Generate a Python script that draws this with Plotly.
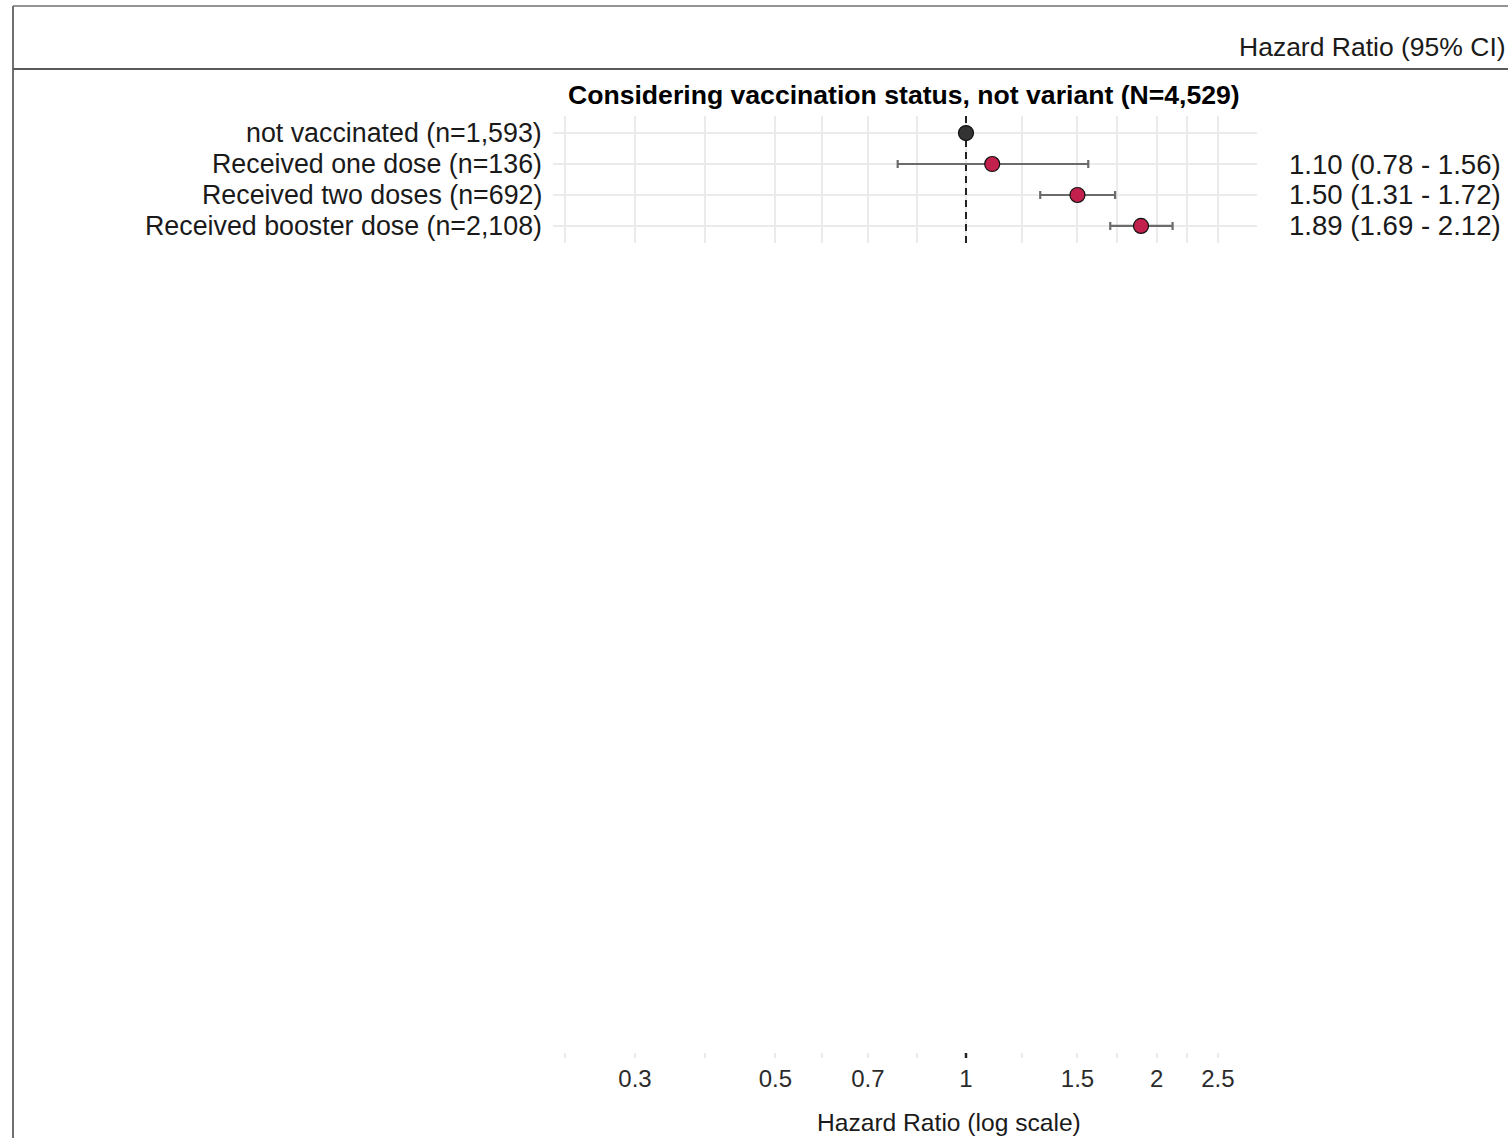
import math
import plotly.graph_objects as go

# Forest plot: hazard ratios by vaccination status
groups = [
    "not vaccinated (n=1,593)",
    "Received one dose (n=136)",
    "Received two doses (n=692)",
    "Received booster dose (n=2,108)",
]
hr = [1.00, 1.10, 1.50, 1.89]
ci_low = [None, 0.78, 1.31, 1.69]
ci_high = [None, 1.56, 1.72, 2.12]
hr_text = ["", "1.10 (0.78 - 1.56)", "1.50 (1.31 - 1.72)", "1.89 (1.69 - 2.12)"]

tick_vals = [0.3, 0.5, 0.7, 1, 1.5, 2, 2.5]
tick_text = ["0.3", "0.5", "0.7", "1", "1.5", "2", "2.5"]

title_text = "Considering vaccination status, not variant (N=4,529)"
header_text = "Hazard Ratio (95% CI)"
xlabel_text = "Hazard Ratio (log scale)"

W, H = 1508, 1138
FONT = "Liberation Sans, Arial, sans-serif"
TXT = "#1a1a1a"
GRID = "#ebebeb"
REF_COLOR = "#333333"
EST_COLOR = "#c2214e"

# minor gridlines halfway between major breaks (in log space), plus one below
logs = [math.log10(v) for v in tick_vals]
minor_logs = [logs[0] - (logs[1] - logs[0]) / 2]
minor_logs += [(a + b) / 2 for a, b in zip(logs[:-1], logs[1:])]
minor_vals = [10 ** m for m in minor_logs]

x_range = [-0.6524, 0.4597]
rows = list(range(1, len(groups) + 1))


def px_x(p):
    return p / W


def px_y(p):
    return 1 - p / H


fig = go.Figure()

# reference line at HR = 1
fig.add_trace(go.Scatter(
    x=[1, 1], y=[0.45, 4.55], mode="lines",
    line=dict(color="#222222", width=2, dash="7px,5px"),
    xaxis="x", yaxis="y", showlegend=False, hoverinfo="skip",
))

# reference group point
fig.add_trace(go.Scatter(
    x=[hr[0]], y=[rows[0]], mode="markers",
    marker=dict(size=15, color=REF_COLOR, line=dict(color="#111111", width=1.2)),
    xaxis="x", yaxis="y", showlegend=False,
))

# estimates with 95% CI
est_x = hr[1:]
est_y = rows[1:]
err_plus = [h - e for h, e in zip(ci_high[1:], est_x)]
err_minus = [e - l for e, l in zip(est_x, ci_low[1:])]
fig.add_trace(go.Scatter(
    x=est_x, y=est_y, mode="markers",
    marker=dict(size=15, color=EST_COLOR, line=dict(color="#111111", width=1.2)),
    error_x=dict(type="data", symmetric=False, array=err_plus, arrayminus=err_minus,
                 color="#6b6b6b", thickness=2.2, width=4),
    xaxis="x", yaxis="y", showlegend=False,
))

# reference mark in the axis strip
fig.add_trace(go.Scatter(
    x=[1, 1], y=[0, 1], mode="lines",
    line=dict(color="#222222", width=2.5),
    xaxis="x2", yaxis="y2", showlegend=False, hoverinfo="skip",
))

dom_x = [px_x(553), px_x(1257)]

xaxis_common = dict(
    type="log", range=x_range, domain=dom_x,
    tickvals=tick_vals, ticktext=tick_text,
    showgrid=True, gridcolor=GRID, gridwidth=1.6,
    minor=dict(tickvals=minor_vals, showgrid=True, gridcolor=GRID, gridwidth=1.6),
    zeroline=False, showline=False, ticks="",
)

fig.update_layout(
    width=W, height=H,
    margin=dict(l=0, r=0, t=0, b=0),
    paper_bgcolor="white", plot_bgcolor="white",
    font=dict(family=FONT, color=TXT, size=22),
    xaxis=dict(**xaxis_common, anchor="y", showticklabels=False),
    yaxis=dict(
        domain=[px_y(243), px_y(116)], range=[4.55, 0.45],
        tickvals=rows, showticklabels=False, showgrid=True, gridcolor=GRID,
        gridwidth=1.6, zeroline=False, showline=False, ticks="",
    ),
    xaxis2=dict(**xaxis_common, anchor="y2", showticklabels=True,
                tickfont=dict(family=FONT, size=24, color="#2b2b2b"),
                ticklabelstandoff=4),
    yaxis2=dict(
        domain=[px_y(1058), px_y(1053)], range=[0, 1],
        showticklabels=False, showgrid=False, zeroline=False, showline=False,
    ),
)

annotations = []
# row labels on the left and HR (95% CI) text on the right
for r, g, t in zip(rows, groups, hr_text):
    annotations.append(dict(
        x=px_x(544), xref="paper", y=r, yref="y", text=g, showarrow=False,
        xanchor="right", yanchor="middle", font=dict(size=26.8, color=TXT),
    ))
    if t:
        annotations.append(dict(
            x=px_x(1287), xref="paper", y=r, yref="y", text=t, showarrow=False,
            xanchor="left", yanchor="middle", font=dict(size=27.6, color=TXT),
        ))

annotations.append(dict(
    x=px_x(904), xref="paper", y=px_y(95), yref="paper",
    text="<b>" + title_text + "</b>", showarrow=False,
    xanchor="center", yanchor="middle", font=dict(size=26.6, color="#000000"),
))
annotations.append(dict(
    x=px_x(1508), xref="paper", y=px_y(47), yref="paper", text=header_text,
    showarrow=False, xanchor="right", yanchor="middle",
    font=dict(size=26.5, color=TXT),
))
annotations.append(dict(
    x=px_x(949), xref="paper", y=px_y(1122), yref="paper", text=xlabel_text,
    showarrow=False, xanchor="center", yanchor="middle",
    font=dict(size=24.6, color=TXT),
))
fig.update_layout(annotations=annotations)

# table frame: outer box edges and header separator
BORDER = "#707070"
fig.update_layout(shapes=[
    dict(type="line", xref="paper", yref="paper", x0=px_x(13), x1=1,
         y0=px_y(6), y1=px_y(6), line=dict(color=BORDER, width=1.5)),
    dict(type="line", xref="paper", yref="paper", x0=px_x(13), x1=px_x(13),
         y0=px_y(6), y1=0, line=dict(color=BORDER, width=2)),
    dict(type="line", xref="paper", yref="paper", x0=px_x(13), x1=1,
         y0=px_y(69), y1=px_y(69), line=dict(color="#5a5a5a", width=2.2)),
])

fig.write_html("out.html")
